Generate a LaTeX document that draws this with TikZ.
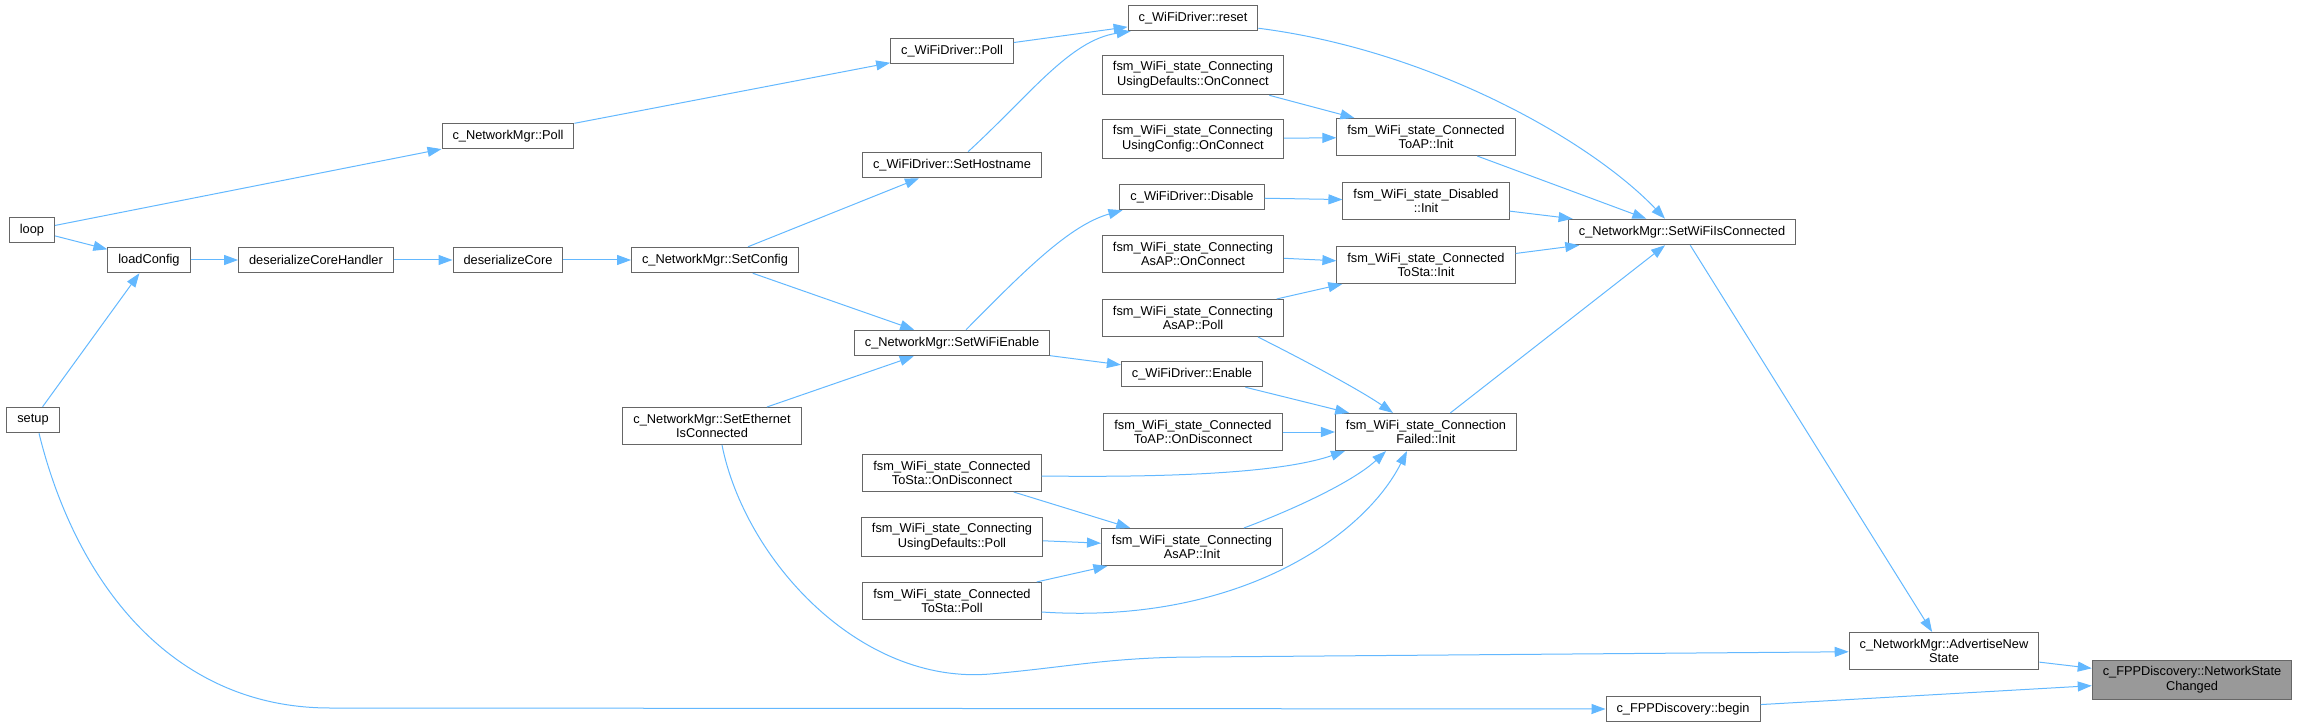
\documentclass[tikz,border=0pt]{standalone}
\usepackage{fontspec}
\setmainfont{Liberation Sans}
\usetikzlibrary{arrows.meta}
\definecolor{callblue}{HTML}{63B8FF}
\definecolor{boxgray}{HTML}{666666}
\definecolor{hilite}{HTML}{999999}

\begin{document}
\begin{tikzpicture}[x=1pt,y=-1pt,
    fn/.style={draw=boxgray,line width=1pt,fill=white,align=center,
      inner xsep=10.5pt,inner ysep=6.5pt,minimum height=25.5pt,
      font=\fontsize{12.8}{14.7}\selectfont},
    hl/.style={fn,fill=hilite},
    calls/.style={callblue,line width=1pt,-{Triangle[length=14pt,width=10pt]}}]
  \useasboundingbox (0,0) rectangle (2300,727);

  % callers on the left
  \node[fn] (loop) at (32,230) {loop};
  \node[fn] (setup) at (33,420) {setup};
  \node[fn] (loadConfig) at (149,260) {loadConfig};
  \node[fn] (desHandler) at (316,260) {deserializeCoreHandler};
  \node[fn] (desCore) at (508,260) {deserializeCore};
  \node[fn] (SetConfig) at (715,260) {c\_NetworkMgr::SetConfig};
  \node[fn] (NMPoll) at (508,136) {c\_NetworkMgr::Poll};
  \node[fn] (SetEthernet) at (712,426) {c\_NetworkMgr::SetEthernet\\IsConnected};

  % middle columns
  \node[fn] (WDPoll) at (952,51) {c\_WiFiDriver::Poll};
  \node[fn] (SetHostname) at (952,165) {c\_WiFiDriver::SetHostname};
  \node[fn] (SetWiFiEnable) at (952,343) {c\_NetworkMgr::SetWiFiEnable};
  \node[fn] (StaOnDisc) at (952,473) {fsm\_WiFi\_state\_Connected\\ToSta::OnDisconnect};
  \node[fn] (UDPoll) at (952,537) {fsm\_WiFi\_state\_Connecting\\UsingDefaults::Poll};
  \node[fn] (StaPoll) at (952,601) {fsm\_WiFi\_state\_Connected\\ToSta::Poll};

  \node[fn] (reset) at (1193,18) {c\_WiFiDriver::reset};
  \node[fn] (UDOnConn) at (1193,75) {fsm\_WiFi\_state\_Connecting\\UsingDefaults::OnConnect};
  \node[fn] (UCOnConn) at (1193,139) {fsm\_WiFi\_state\_Connecting\\UsingConfig::OnConnect};
  \node[fn] (Disable) at (1192,197) {c\_WiFiDriver::Disable};
  \node[fn] (AsAPOnConn) at (1193,254) {fsm\_WiFi\_state\_Connecting\\AsAP::OnConnect};
  \node[fn] (AsAPPoll) at (1193,318) {fsm\_WiFi\_state\_Connecting\\AsAP::Poll};
  \node[fn] (Enable) at (1192,374) {c\_WiFiDriver::Enable};
  \node[fn] (APOnDisc) at (1193,432) {fsm\_WiFi\_state\_Connected\\ToAP::OnDisconnect};
  \node[fn] (AsAPInit) at (1192,547) {fsm\_WiFi\_state\_Connecting\\AsAP::Init};

  \node[fn] (APInit) at (1426,137) {fsm\_WiFi\_state\_Connected\\ToAP::Init};
  \node[fn] (DisabledInit) at (1426,201) {fsm\_WiFi\_state\_Disabled\\::Init};
  \node[fn] (StaInit) at (1426,265) {fsm\_WiFi\_state\_Connected\\ToSta::Init};
  \node[fn] (FailedInit) at (1426,432) {fsm\_WiFi\_state\_Connection\\Failed::Init};

  % right side
  \node[fn] (SWC) at (1682,232) {c\_NetworkMgr::SetWiFiIsConnected};
  \node[fn] (Advertise) at (1944,651) {c\_NetworkMgr::AdvertiseNew\\State};
  \node[fn] (begin) at (1683,709) {c\_FPPDiscovery::begin};
  \node[hl] (NSC) at (2192,680) {c\_FPPDiscovery::NetworkState\\Changed};

  \foreach \a/\b in {loop/NMPoll, loop/loadConfig, setup/loadConfig,
      loadConfig/desHandler, desHandler/desCore, desCore/SetConfig,
      NMPoll/WDPoll, WDPoll/reset, SetConfig/SetHostname,
      SetConfig/SetWiFiEnable, SetEthernet/SetWiFiEnable, SetWiFiEnable/Enable,
      UDOnConn/APInit, UCOnConn/APInit, APInit/SWC, Disable/DisabledInit,
      DisabledInit/SWC, AsAPOnConn/StaInit, AsAPPoll/StaInit, StaInit/SWC,
      Enable/FailedInit, APOnDisc/FailedInit, StaOnDisc/AsAPInit,
      UDPoll/AsAPInit, StaPoll/AsAPInit, FailedInit/SWC, SWC/Advertise,
      Advertise/NSC, begin/NSC}
    \draw[calls] (\a) -- (\b);

  % curved calls
  \draw[calls] ([xshift=16pt]SetHostname.north) .. controls (1030,95) and (1070,40) .. ([xshift=3pt]reset.south west);
  \draw[calls] ([xshift=14pt]SetWiFiEnable.north) .. controls (1025,270) and (1070,225) .. ([xshift=3pt]Disable.south west);
  \draw[calls] ([yshift=3pt]reset.south east) .. controls (1430,50) and (1590,140) .. ([xshift=-17pt]SWC.north);
  \draw[calls] ([xshift=65pt]AsAPPoll.south) .. controls (1300,358) and (1360,390) .. ([xshift=-33pt]FailedInit.north);
  \draw[calls] ([xshift=52pt]AsAPInit.north) .. controls (1300,507) and (1355,480) .. ([xshift=-40pt]FailedInit.south);
  \draw[calls] ([yshift=-3pt]StaOnDisc.east) .. controls (1200,478) and (1290,470) .. ([xshift=10pt]FailedInit.south west);
  \draw[calls] ([yshift=-11pt]StaPoll.east) .. controls (1240,625) and (1365,535) .. ([xshift=-19pt]FailedInit.south);
  \draw[calls] ([xshift=6pt]setup.south) .. controls (75,580) and (170,708) .. (330,708) -- (begin.west);
  \draw[calls] ([xshift=10pt]SetEthernet.south) .. controls (745,560) and (860,685) .. (990,674)
    .. controls (1070,667) and (1110,657) .. (1200,657) -- (Advertise);
\end{tikzpicture}
\end{document}
